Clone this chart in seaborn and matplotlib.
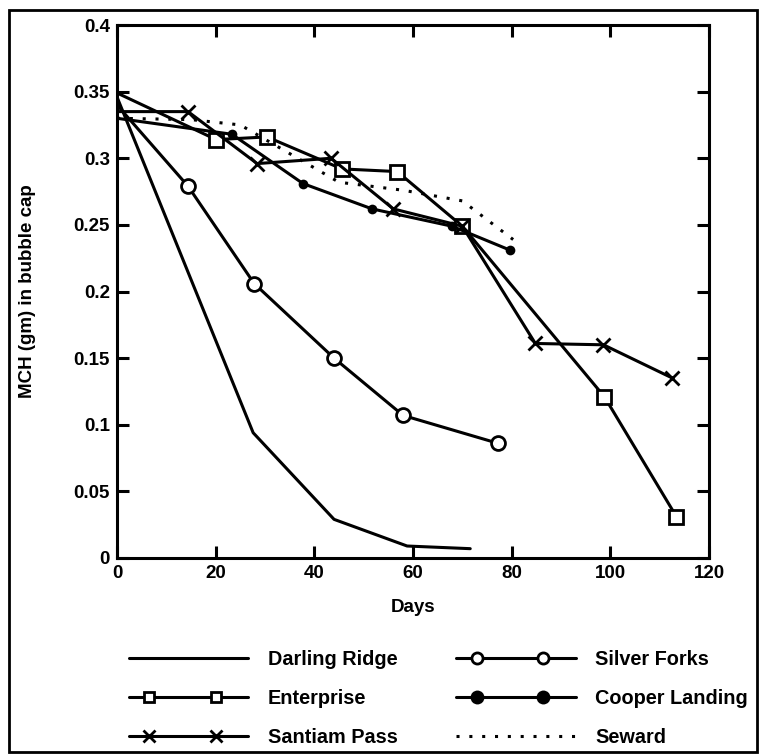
import matplotlib
matplotlib.use("Agg")
import matplotlib.pyplot as plt
from matplotlib.patches import Rectangle
from matplotlib.lines import Line2D
from matplotlib.legend_handler import HandlerLine2D
from matplotlib.ticker import FuncFormatter
import seaborn as sns
import pandas as pd

# MCH remaining in bubble caps over time, by site
darling_days = [0, 27.6, 44.0, 58.8, 71.6]
darling_mch = [0.346, 0.094, 0.029, 0.009, 0.007]

silver_days = [0, 14.4, 27.8, 44.0, 58.0, 77.3]
silver_mch = [0.340, 0.279, 0.206, 0.150, 0.107, 0.086]

enterprise_days = [0, 20.1, 30.4, 45.6, 56.8, 70.0, 98.8, 113.4]
enterprise_mch = [0.349, 0.314, 0.316, 0.292, 0.290, 0.249, 0.121, 0.031]

cooper_days = [0, 23.3, 37.7, 51.7, 67.9, 79.7]
cooper_mch = [0.330, 0.318, 0.281, 0.262, 0.249, 0.231]

santiam_days = [0, 14.4, 28.4, 43.4, 56.0, 70.0, 84.8, 98.6, 112.6]
santiam_mch = [0.335, 0.335, 0.296, 0.300, 0.262, 0.249, 0.161, 0.160, 0.135]

seward_days = [0, 15, 25, 45, 58, 70, 80.3]
seward_mch = [0.330, 0.329, 0.325, 0.282, 0.276, 0.268, 0.239]

x_ticks = [0, 20, 40, 60, 80, 100, 120]
y_ticks = [0, 0.05, 0.1, 0.15, 0.2, 0.25, 0.3, 0.35, 0.4]

sns.set_theme(style="white")
plt.rcParams["font.family"] = ["Liberation Sans", "DejaVu Sans"]
plt.rcParams["font.weight"] = "bold"
plt.rcParams["text.color"] = "black"
plt.rcParams["axes.labelcolor"] = "black"
plt.rcParams["xtick.color"] = "black"
plt.rcParams["ytick.color"] = "black"

FS = 13.5
FS_LEG = 14.3


class InsetMarkerHandler(HandlerLine2D):
    """Legend sample: a full-length line with two markers set in from the ends."""

    def __init__(self, marker_size=None, fractions=(0.17, 0.73), **kw):
        super().__init__(**kw)
        self.marker_size = marker_size
        self.fractions = fractions

    def create_artists(self, legend, orig_handle, xdescent, ydescent,
                       width, height, fontsize, trans):
        x0 = -xdescent
        xs = [x0, x0 + self.fractions[0] * width, x0 + self.fractions[1] * width, x0 + width]
        y = (height - ydescent) / 2
        line = Line2D(xs, [y] * 4)
        self.update_prop(line, orig_handle, legend)
        line.set_markevery([1, 2])
        if self.marker_size:
            line.set_markersize(self.marker_size)
        line.set_transform(trans)
        return [line]


fig = plt.figure(figsize=(7.59, 7.56), dpi=100)
ax = fig.add_axes([117 / 759, 1 - 558 / 756, (709 - 117) / 759, (558 - 25) / 756])

LW = 2.2
after_start = slice(1, None)  # no marker on the day-0 reading at the axis edge
series = [
    ("Darling Ridge", darling_days, darling_mch, dict(marker=None, linestyle="-")),
    ("Enterprise", enterprise_days, enterprise_mch,
     dict(marker="s", markersize=9.5, markerfacecolor="white", markeredgecolor="black",
          markeredgewidth=2.0, linestyle="-", markevery=after_start)),
    ("Santiam Pass", santiam_days, santiam_mch,
     dict(marker="x", markersize=10, markeredgecolor="black", markeredgewidth=2.0,
          linestyle="-", markevery=after_start)),
    ("Silver Forks", silver_days, silver_mch,
     dict(marker="o", markersize=10, markerfacecolor="white", markeredgecolor="black",
          markeredgewidth=2.0, linestyle="-", markevery=after_start)),
    ("Cooper Landing", cooper_days, cooper_mch,
     dict(marker="o", markersize=7, markerfacecolor="black", markeredgecolor="black",
          markeredgewidth=0, linestyle="-", markevery=after_start)),
    ("Seward", seward_days, seward_mch, dict(marker=None, linestyle=(0, (1.0, 3.2)))),
]

handles = []
for name, d, v, style in series:
    df = pd.DataFrame({"Days": d, "MCH": v})
    sns.lineplot(data=df, x="Days", y="MCH", ax=ax, color="black", lw=LW,
                 sort=False, estimator=None, label=name, **style)
    handles.append(ax.lines[-1])

if ax.legend_ is not None:
    ax.legend_.remove()

ax.set_xlim(0, 120)
ax.set_ylim(0, 0.4)
ax.set_xticks(x_ticks)
ax.set_yticks(y_ticks)
ax.yaxis.set_major_formatter(FuncFormatter(lambda y, _: f"{y:g}"))
ax.tick_params(direction="in", length=8.5, width=2.2, top=True, right=True,
               bottom=True, left=True, labeltop=False, labelright=False,
               labelsize=FS, pad=5, colors="black")
for lab in ax.get_xticklabels() + ax.get_yticklabels():
    lab.set_fontweight("bold")
for sp in ax.spines.values():
    sp.set_linewidth(2.2)
    sp.set_color("black")

ax.set_xlabel("Days", fontsize=FS, fontweight="bold", labelpad=12)
ax.set_ylabel("MCH (gm) in bubble cap", fontsize=FS, fontweight="bold", labelpad=27)

legend_marker_sizes = [None, 6.5, 8, 8, 10, None]
handler_map = {h: InsetMarkerHandler(marker_size=ms)
               for h, ms in zip(handles, legend_marker_sizes)}
leg = fig.legend(handles=handles, labels=[s[0] for s in series], ncol=2,
                 loc="upper left", bbox_to_anchor=(111 / 759, 1 - 632 / 756),
                 frameon=False, handlelength=6.0, handletextpad=1.0,
                 columnspacing=2.95, labelspacing=1.02, handler_map=handler_map,
                 prop=dict(size=FS_LEG, weight="bold"))
for t in leg.get_texts():
    t.set_color("black")

fig.patches.append(Rectangle((9 / 759, 4 / 756), (757 - 9) / 759, (752 - 10) / 756,
                             transform=fig.transFigure, fill=False,
                             edgecolor="black", linewidth=2.0))

fig.savefig("out.png", dpi=100)
